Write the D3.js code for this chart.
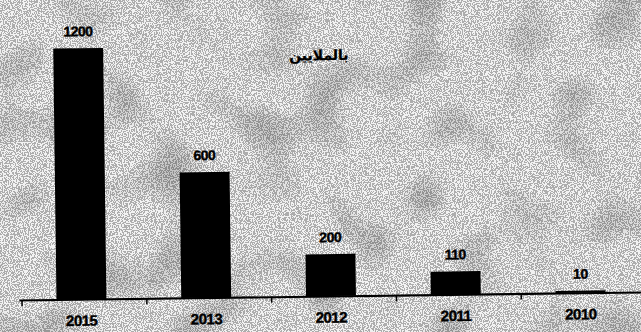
<!DOCTYPE html>
<html>
<head>
<meta charset="utf-8">
<script src="https://cdn.jsdelivr.net/npm/d3@7"></script>
<style>
  html, body { margin: 0; padding: 0; background: #fff; }
  svg { display: block; }
</style>
</head>
<body>
<svg id="chart" width="641" height="332"></svg>
<script>
// Years, in the order they are drawn from left to right
const years = ["2015", "2013", "2012", "2011", "2010"];
// Values in millions
const values = [1200, 600, 200, 110, 10];
const unitLabel = "بالملايين";

const W = 641, H = 332;
const svg = d3.select("#chart");
const defs = svg.append("defs");

// Speckled grey paper: fine dots thresholded from noise
function noiseFilter(id, seed, freq, type, table) {
  const f = defs.append("filter").attr("id", id)
    .attr("x", 0).attr("y", 0).attr("width", "100%").attr("height", "100%");
  f.append("feTurbulence").attr("type", "fractalNoise")
    .attr("baseFrequency", freq).attr("numOctaves", 1).attr("seed", seed).attr("result", "n");
  f.append("feColorMatrix").attr("in", "n").attr("type", "matrix")
    .attr("values", "0 0 0 0 0  0 0 0 0 0  0 0 0 0 0  1 0 0 0 0").attr("result", "a");
  f.append("feComponentTransfer").attr("in", "a")
    .append("feFuncA").attr("type", type).attr("tableValues", table);
}
noiseFilter("darkDots", 4, "0.85", "discrete", "0 0 0 0 0 1 1 1 1 1");
noiseFilter("lightPatches", 9, "0.02", "table", "0 0 0 0.5 1");

svg.append("rect").attr("width", W).attr("height", H).attr("fill", "#f2f2f2");
svg.append("rect").attr("width", W).attr("height", H).attr("fill", "#000")
  .attr("filter", "url(#darkDots)").attr("opacity", 0.28);
svg.append("rect").attr("width", W).attr("height", H).attr("fill", "#fff")
  .attr("filter", "url(#lightPatches)").attr("opacity", 0.35);

// Chart body, slightly tilted
const baseY = 296;
const g = svg.append("g").attr("transform", `rotate(-0.74, 331, ${baseY})`);

const x = d3.scaleBand().domain(years).range([19, 643]).paddingInner(0.6).paddingOuter(0.3);
const y = d3.scaleLinear().domain([0, 1200]).range([baseY, 45]);

g.selectAll("rect.bar").data(values).join("rect")
  .attr("class", "bar")
  .attr("x", (d, i) => x(years[i]))
  .attr("width", x.bandwidth())
  .attr("y", d => y(d))
  .attr("height", d => baseY - y(d))
  .attr("fill", "#000");

g.selectAll("text.val").data(values).join("text")
  .attr("class", "val")
  .attr("x", (d, i) => x(years[i]) + x.bandwidth() / 2)
  .attr("y", d => y(d) - 12)
  .attr("text-anchor", "middle")
  .attr("font-family", "Liberation Sans, Arial, sans-serif")
  .attr("font-weight", "bold")
  .attr("font-size", 14)
  .attr("letter-spacing", -0.5)
  .attr("stroke", "#000").attr("stroke-width", 0.4)
  .attr("fill", "#000")
  .text(d => d);

// Category axis with tick marks at band boundaries
const axis = d3.axisBottom(x).tickSize(0).tickPadding(16);
const ax = g.append("g").attr("transform", `translate(0, ${baseY})`).call(axis);
ax.select(".domain").attr("stroke", "#000").attr("stroke-width", 2.2);
ax.selectAll("text")
  .attr("font-family", "Liberation Sans, Arial, sans-serif")
  .attr("font-weight", "bold")
  .attr("font-size", 15)
  .attr("letter-spacing", -0.5)
  .attr("stroke", "#000").attr("stroke-width", 0.4)
  .attr("fill", "#000");

const step = x.step();
const bounds = d3.range(years.length + 1).map(i => 22 + i * step);
g.selectAll("line.tick-mark").data(bounds).join("line")
  .attr("class", "tick-mark")
  .attr("x1", d => d).attr("x2", d => d)
  .attr("y1", baseY).attr("y2", baseY + 6)
  .attr("stroke", "#000").attr("stroke-width", 1.5);

g.append("text")
  .attr("x", 322).attr("y", 60)
  .attr("text-anchor", "middle")
  .attr("font-family", "DejaVu Sans, sans-serif")
  .attr("font-weight", "bold")
  .attr("font-size", 14)
  .attr("stroke", "#000").attr("stroke-width", 0.3)
  .attr("fill", "#000")
  .attr("direction", "rtl")
  .text(unitLabel);
</script>
</body>
</html>
